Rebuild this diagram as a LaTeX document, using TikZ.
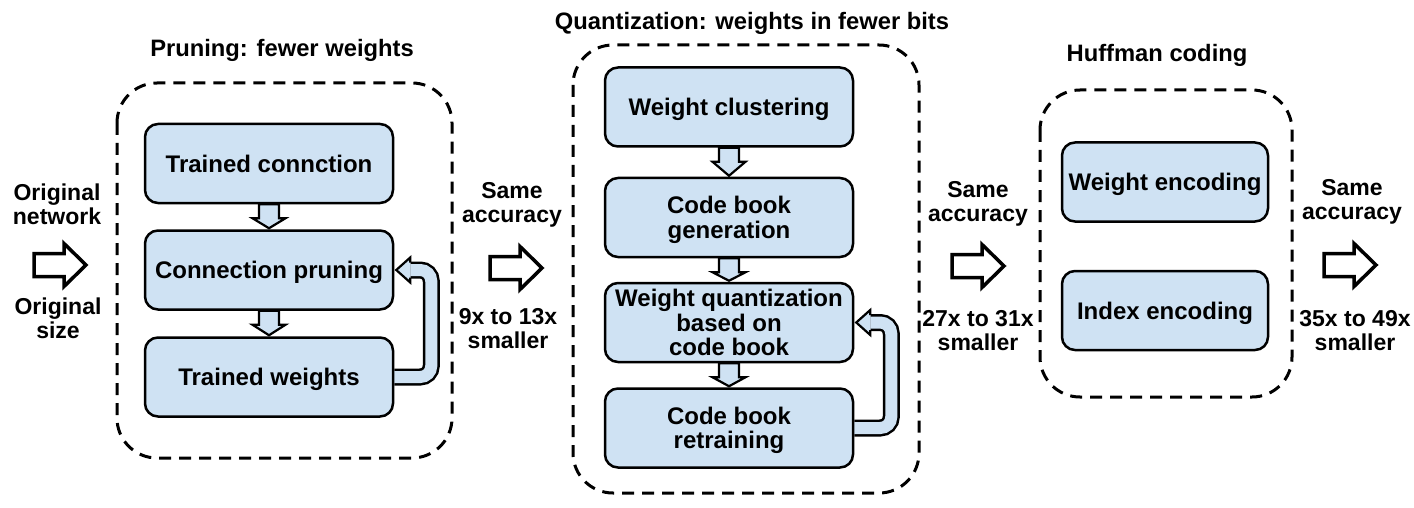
\documentclass[tikz,border=0pt]{standalone}
\usepackage{fontspec}
\setmainfont{Liberation Sans}
\usetikzlibrary{calc,backgrounds}
\definecolor{boxblue}{HTML}{CFE2F3}
\tikzset{
  stagebox/.style={draw=black, line width=2.5pt, rounded corners=13pt, fill=boxblue,
    minimum width=248pt, minimum height=79pt, inner sep=2pt, align=center, text depth=0pt,
    font=\fontsize{24}{24.5}\selectfont\bfseries},
  group/.style={draw=black, line width=3pt, dash pattern=on 12pt off 8pt, rounded corners=40pt},
  lbl/.style={align=center, inner sep=0pt, font=\fontsize{23}{24}\selectfont\bfseries},
  ttl/.style={inner sep=0pt, font=\fontsize{23.75}{24}\selectfont\bfseries},
  bigarrow/.style={draw=black, line width=3.5pt, fill=white, miter limit=10},
  smallarrow/.style={draw=black, line width=2.2pt, fill=boxblue},
  bandout/.style={draw=black, line width=17pt, rounded corners=11pt},
  bandin/.style={draw=boxblue, line width=12pt, rounded corners=11pt},
}
\newcommand\hdown[2]{%
  \filldraw[smallarrow] ($(#1.south)+(-10,0)$) -- ($(#1.south)+(-10,14)$)
    -- ($(#1.south)+(-16.5,14)$) -- ($(#2.north)+(0,-1)$)
    -- ($(#1.south)+(16.5,14)$) -- ($(#1.south)+(10,14)$)
    -- ($(#1.south)+(10,0)$) -- cycle;}
\newcommand\bigright[1]{%
  \filldraw[bigarrow] ($(#1)+(0,-11.5)$) -- ($(#1)+(30,-11.5)$) -- ($(#1)+(30,-21.5)$)
    -- ($(#1)+(52,0)$) -- ($(#1)+(30,21.5)$) -- ($(#1)+(30,11.5)$)
    -- ($(#1)+(0,11.5)$) -- cycle;}
% feedback arrow from #1 (lower box) back to #2 (upper box), both right sides
\newcommand\feedback[2]{%
  \begin{scope}[on background layer]
  \draw[bandout] (#1.east) -- ($(#1.east)+(37,0)$) -- ($(#2.east)+(37,0)$) -- ($(#2.east)+(16,0)$);
  \draw[bandin] ($(#1.east)+(-2,0)$) -- ($(#1.east)+(37,0)$) -- ($(#2.east)+(37,0)$) -- ($(#2.east)+(16,0)$);
  \end{scope}
  \filldraw[smallarrow] ($(#2.east)+(16,-7.5)$) -- ($(#2.east)+(16,-12.5)$) -- ($(#2.east)+(2,0)$)
    -- ($(#2.east)+(16,12.5)$) -- ($(#2.east)+(16,7.5)$);}
\begin{document}
\begin{tikzpicture}[x=1pt,y=-1pt]
\useasboundingbox (0,0) rectangle (1414,508);
\begin{scope}[on background layer]
\fill[white] (0,0) rectangle (1414,508);
\end{scope}

% group frames
\draw[group] (117,83) rectangle (452,458);
\draw[group] (573,45) rectangle (919,493);
\draw[group] (1040,90) rectangle (1292,397);

% titles
\node[ttl] (t1) at (282,50) {Pruning: fewer weights};
\node[ttl] (t2) at (752,23) {Quantization: weights in fewer bits};
\node[ttl] (t3) at (1157,55) {Huffman coding};

% pruning
\node[stagebox] (tc) at (269,163.5) {Trained connction};
\node[stagebox] (cp) at (269,270) {Connection pruning};
\node[stagebox] (tw) at (269,377) {Trained weights};
\hdown{tc}{cp}
\hdown{cp}{tw}
\feedback{tw}{cp}

% quantization
\node[stagebox] (wc) at (729,107) {Weight clustering};
\node[stagebox] (cbg) at (729,217.5) {Code book\\generation};
\node[stagebox] (wq) at (729,322.5) {Weight quantization\\based on\\code book};
\node[stagebox] (cbr) at (729,428) {Code book\\retraining};
\hdown{wc}{cbg}
\hdown{cbg}{wq}
\hdown{wq}{cbr}
\feedback{cbr}{wq}

% huffman
\node[stagebox, minimum width=206pt] (we) at (1165,182) {Weight encoding};
\node[stagebox, minimum width=206pt] (ie) at (1165,310.5) {Index encoding};

% side labels
\node[lbl] (on) at (57,204) {Original\\network};
\node[lbl] (os) at (58,318.5) {Original\\size};
\node[lbl] (sa1) at (512,205) {Same\\accuracy};
\node[lbl] (r1) at (508,328.5) {9x to 13x\\smaller};
\node[lbl] (sa2) at (978,204) {Same\\accuracy};
\node[lbl] (r2) at (978,330.5) {27x to 31x\\smaller};
\node[lbl] (sa3) at (1352,201.5) {Same\\accuracy};
\node[lbl] (r3) at (1355,330.5) {35x to 49x\\smaller};

% big arrows
\coordinate (a1) at (34,265);
\coordinate (a2) at (490,268);
\coordinate (a3) at (952,266);
\coordinate (a4) at (1324,265);
\bigright{a1}
\bigright{a2}
\bigright{a3}
\bigright{a4}
\end{tikzpicture}
\end{document}
